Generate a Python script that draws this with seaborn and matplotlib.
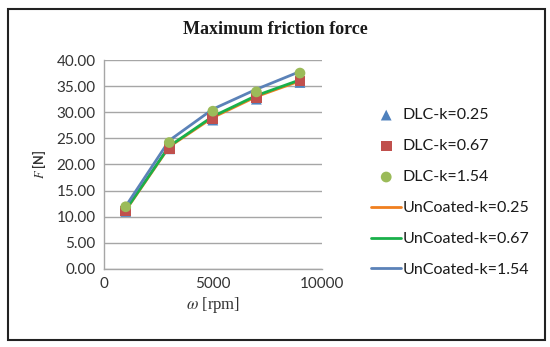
import matplotlib
matplotlib.use("Agg")
import matplotlib.pyplot as plt
import pandas as pd
import seaborn as sns
from matplotlib.patches import Rectangle

rpm = [1000, 3000, 5000, 7000, 9000]

dlc_025 = [11.0, 23.0, 28.5, 32.5, 35.7]
dlc_067 = [11.1, 23.1, 28.8, 32.8, 36.0]
dlc_154 = [11.9, 24.2, 30.2, 33.9, 37.5]

unc_025 = [11.2, 23.4, 29.0, 33.0, 36.0]
unc_067 = [11.3, 23.5, 29.2, 33.2, 36.2]
unc_154 = [12.0, 24.6, 30.6, 34.4, 37.8]

y_ticks = [0, 5, 10, 15, 20, 25, 30, 35, 40]
x_ticks = [0, 5000, 10000]

sns.set_style("white")
plt.rcParams['font.family'] = ['Lato', 'DejaVu Sans']
plt.rcParams['mathtext.fontset'] = 'stix'

fig = plt.figure(figsize=(5.5, 3.47), dpi=100)
ax = fig.add_axes([0.189, 0.225, 0.396, 0.602])

text_col = '#333333'
line_series = [("UnCoated-k=0.25", unc_025, '#F07F1E'),
               ("UnCoated-k=0.67", unc_067, '#19B04A'),
               ("UnCoated-k=1.54", unc_154, '#5B82B8')]
point_series = [("DLC-k=0.25", dlc_025, '#4F81BD', '^'),
                ("DLC-k=0.67", dlc_067, '#C0504D', 's'),
                ("DLC-k=1.54", dlc_154, '#9BBB59', 'o')]

for name, vals, col in line_series:
    df = pd.DataFrame({'rpm': rpm, 'F': vals})
    sns.lineplot(data=df, x='rpm', y='F', ax=ax, color=col, linewidth=2, label=name, zorder=3)

for name, vals, col, mk in point_series:
    df = pd.DataFrame({'rpm': rpm, 'F': vals})
    sns.scatterplot(data=df, x='rpm', y='F', ax=ax, color=col, marker=mk, s=60,
                    edgecolor='none', label=name, zorder=4)

ax.set_xlim(0, 10000)
ax.set_ylim(0, 40)
ax.set_yticks(y_ticks)
ax.set_yticklabels([f"{v:.2f}" for v in y_ticks])
ax.set_xticks(x_ticks)
ax.set_xticklabels([str(v) for v in x_ticks])
ax.tick_params(axis='both', labelsize=11, colors=text_col, length=0, pad=6)
ax.yaxis.grid(True, color='#A6A6A6', linewidth=1)
for side in ['top', 'right']:
    ax.spines[side].set_visible(False)
for side in ['left', 'bottom']:
    ax.spines[side].set_color('#A6A6A6')
    ax.spines[side].set_linewidth(1)

ax.set_xlabel(r'$\omega$ [rpm]', fontsize=12, family='Liberation Serif', color=text_col, labelpad=3)
ax.set_ylabel(r'$\mathit{F}$ [N]', fontsize=9, color=text_col, labelpad=6, fontweight='bold')

fig.text(0.5, 0.915, 'Maximum friction force', ha='center', va='center',
         fontsize=13, fontweight='bold', family='Liberation Serif', color='#1a1a1a')

handles, labels = ax.get_legend_handles_labels()
order = [3, 4, 5, 0, 1, 2]
ax.legend([handles[i] for i in order], [labels[i] for i in order],
          loc='center left', bbox_to_anchor=(0.663, 0.445), bbox_transform=fig.transFigure,
          frameon=False, fontsize=11.5, handlelength=1.9, handletextpad=0.1,
          labelspacing=1.05, labelcolor='#1a1a1a', borderaxespad=0)

fig.patches.append(Rectangle((0.015, 0.02), 0.975, 0.955, transform=fig.transFigure,
                             fill=False, edgecolor='#222222', linewidth=1.5))

fig.savefig('out.png', dpi=100)
